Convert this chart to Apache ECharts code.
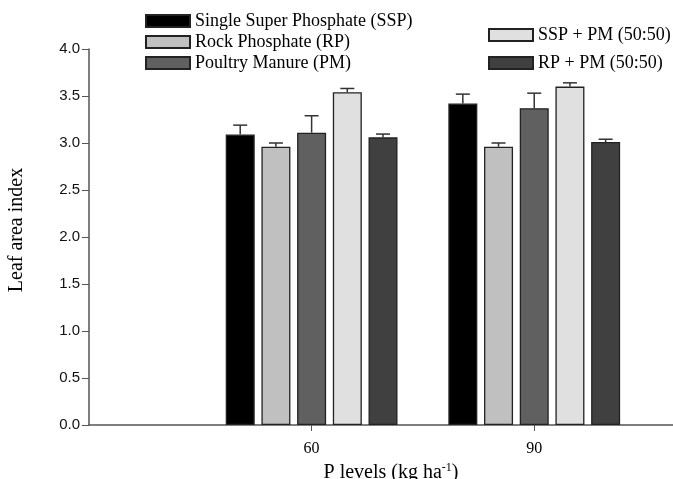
<!DOCTYPE html>
<html>
<head>
<meta charset="utf-8">
<script src="https://cdn.jsdelivr.net/npm/echarts@6/dist/echarts.min.js"></script>
<style>
  html, body { margin: 0; padding: 0; background: #fff; }
  #chart { width: 673px; height: 479px; }
</style>
</head>
<body>
<div id="chart"></div>
<script>
// P levels on x axis (kg/ha)
var levels = [60, 90];
var seriesNames = [
  "Single Super Phosphate (SSP)",
  "Rock Phosphate (RP)",
  "Poultry Manure (PM)",
  "SSP + PM (50:50)",
  "RP + PM (50:50)"
];
// leaf area index, one row per treatment (60, 90)
var ssp = [3.09, 3.42];
var rp = [2.96, 2.96];
var pm = [3.11, 3.37];
var sspPm = [3.54, 3.60];
var rpPm = [3.06, 3.01];
// standard error (upper bars only)
var sspErr = [0.10, 0.10];
var rpErr = [0.04, 0.04];
var pmErr = [0.18, 0.16];
var sspPmErr = [0.04, 0.04];
var rpPmErr = [0.035, 0.03];
var yTicks = [0, 0.5, 1.0, 1.5, 2.0, 2.5, 3.0, 3.5, 4.0];

(function () {
  var myechart = echarts.init(document.getElementById("chart"));
  var values = [ssp, rp, pm, sspPm, rpPm];
  var errs = [sspErr, rpErr, pmErr, sspPmErr, rpPmErr];
  var colors = ["#000000", "#c0c0c0", "#606060", "#e0e0e0", "#404040"];
  var barWidth = 29;
  var gapPx = 6.7;
  var serif = "Liberation Serif";

  var series = [];
  for (var i = 0; i < values.length; i++) {
    series.push({
      name: seriesNames[i],
      type: "bar",
      barWidth: barWidth,
      barGap: (gapPx / barWidth * 100).toFixed(1) + "%",
      itemStyle: { color: colors[i], borderColor: "#222", borderWidth: 1.3 },
      data: levels.map(function (l, j) { return [l, values[i][j]]; })
    });
  }

  // error bars, drawn over the bars
  var errData = [];
  for (var s = 0; s < values.length; s++) {
    for (var k = 0; k < levels.length; k++) {
      errData.push([levels[k], values[s][k], errs[s][k], s]);
    }
  }
  series.push({
    type: "custom",
    z: 5,
    silent: true,
    encode: { x: 0, y: 1 },
    data: errData,
    renderItem: function (params, api) {
      var idx = api.value(3);
      var off = (idx - (values.length - 1) / 2) * (barWidth + gapPx);
      var base = api.coord([api.value(0), api.value(1)]);
      var top = api.coord([api.value(0), api.value(1) + api.value(2)]);
      var x = base[0] + off;
      var style = { stroke: "#333", lineWidth: 1.5 };
      return {
        type: "group",
        children: [
          { type: "line", shape: { x1: x, y1: base[1], x2: x, y2: top[1] }, style: style },
          { type: "line", shape: { x1: x - 7, y1: top[1], x2: x + 7, y2: top[1] }, style: style }
        ]
      };
    }
  });

  var legendText = { fontFamily: serif, fontSize: 18, color: "#000" };
  var option = {
    animation: false,
    grid: { left: 89, right: 0, top: 49, bottom: 54, outerBoundsMode: "none" },
    legend: [
      {
        orient: "vertical",
        left: 140,
        top: 7,
        itemWidth: 44,
        itemHeight: 12,
        itemGap: 3,
        icon: "rect",
        textStyle: legendText,
        data: seriesNames.slice(0, 3)
      },
      {
        orient: "vertical",
        left: 483,
        top: 21,
        itemWidth: 44,
        itemHeight: 12,
        itemGap: 10,
        icon: "rect",
        textStyle: legendText,
        data: seriesNames.slice(3)
      }
    ],
    xAxis: {
      type: "value",
      min: 30,
      max: 108.7,
      interval: 30,
      splitLine: { show: false },
      axisLine: { show: true, onZero: false, lineStyle: { color: "#555", width: 1.5 } },
      axisTick: { show: true, customValues: levels, length: 6, lineStyle: { color: "#555" } },
      axisLabel: {
        customValues: levels,
        margin: 16,
        fontFamily: serif,
        fontSize: 16,
        color: "#000"
      },
      name: "{a|P levels (kg ha}{b|-1}{a|)}",
      nameLocation: "middle",
      nameGap: 31,
      nameTextStyle: {
        padding: [0, 0, 0, 20],
        rich: {
          a: { fontFamily: serif, fontSize: 20, color: "#000" },
          b: { fontFamily: serif, fontSize: 12, color: "#000", verticalAlign: "top", padding: [0, 0, 9, 0] }
        }
      }
    },
    yAxis: {
      type: "value",
      min: 0,
      max: 4,
      interval: 0.5,
      splitLine: { show: false },
      axisLine: { show: true, lineStyle: { color: "#555", width: 1.5 } },
      axisTick: { show: true, length: 7, lineStyle: { color: "#555" } },
      axisLabel: {
        customValues: yTicks,
        margin: 9,
        fontFamily: "Liberation Sans",
        fontSize: 15,
        color: "#111",
        formatter: function (v) { return v.toFixed(1); }
      },
      name: "Leaf area index",
      nameLocation: "middle",
      nameGap: 62,
      nameTextStyle: { fontFamily: serif, fontSize: 20, color: "#000", padding: [0, 0, 0, 14] }
    },
    series: series
  };

  myechart.setOption(option);
  window.addEventListener("resize", function () {
    myechart.resize();
  });
})();
</script>
</body>
</html>
